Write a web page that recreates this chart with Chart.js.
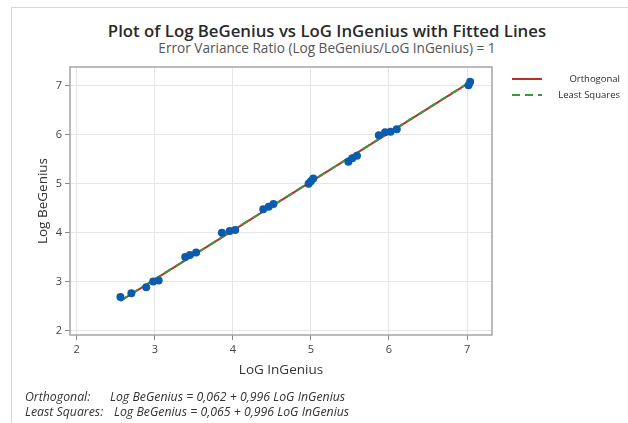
<!DOCTYPE html>
<html>
<head>
<meta charset="utf-8">
<script src="https://cdn.jsdelivr.net/npm/chart.js@4/dist/chart.umd.min.js"></script>
<style>
    body { margin: 0; background: #fff; font-family: "Open Sans", "Noto Sans", sans-serif; }
    #wrap { position: relative; width: 628px; height: 423px; overflow: hidden; }
    #plot { position: absolute; left: 0; top: 0; }
    .frame { position: absolute; left: 11px; top: 7px; right: -2px; bottom: -2px; border-left: 1px solid #d6d6d6; border-top: 1px solid #d6d6d6; }
    .title { position: absolute; left: 0; width: 654px; text-align: center; color: #2a2a2a; }
    .legend { position: absolute; left: 510px; top: 71px; width: 110px; font-size: 9.5px; color: #2a2a2a; }
    .legend div { position: relative; height: 16px; }
    .legend svg { position: absolute; left: 0; top: 2px; }
    .legend span { position: absolute; right: 0; top: 0; line-height: 16px; }
    .note { position: absolute; font-style: italic; font-size: 12.3px; color: #333; white-space: pre; }
</style>
</head>
<body>
<div id="wrap">
    <div class="frame"></div>
    <div class="title" style="top:19px;font-size:16.8px;font-weight:600;">Plot of Log BeGenius vs LoG InGenius with Fitted Lines</div>
    <div class="title" style="top:38px;font-size:13.6px;color:#555;">Error Variance Ratio (Log BeGenius/LoG InGenius) = 1</div>
    <canvas id="plot" width="628" height="423"></canvas>
    <div class="legend">
        <div><svg width="34" height="12"><line x1="2" y1="6" x2="32" y2="6" stroke="#b8302b" stroke-width="2"/></svg><span>Orthogonal</span></div>
        <div><svg width="34" height="12"><line x1="2" y1="6" x2="32" y2="6" stroke="#3a9a3a" stroke-width="2" stroke-dasharray="8,5"/></svg><span>Least Squares</span></div>
    </div>
    <div class="note" style="left:25px;top:388px;">Orthogonal:</div>
    <div class="note" style="left:110px;top:388px;">Log BeGenius = 0,062 + 0,996 LoG InGenius</div>
    <div class="note" style="left:25px;top:403px;">Least Squares:</div>
    <div class="note" style="left:114px;top:403px;">Log BeGenius = 0,065 + 0,996 LoG InGenius</div>
</div>
<script>
const logInGenius = [2.56, 2.70, 2.89, 2.98, 3.05, 3.39, 3.45, 3.53, 3.86, 3.96, 4.03,
    4.39, 4.46, 4.52, 4.97, 5.00, 5.03, 5.48, 5.53, 5.59, 5.87, 5.95, 6.02, 6.10, 7.02, 7.04];
const logBeGenius = [2.69, 2.77, 2.89, 3.01, 3.03, 3.51, 3.55, 3.60, 4.00, 4.04, 4.06,
    4.48, 4.53, 4.59, 5.00, 5.05, 5.11, 5.45, 5.52, 5.57, 5.99, 6.05, 6.06, 6.11, 7.01, 7.08];

// fitted line end points (from the equations printed under the plot)
const orthoX = [2.56, 7.06];
const orthoY = [2.612, 7.094];
const lsqX = [2.56, 7.06];
const lsqY = [2.615, 7.097];

const tickValues = [2, 3, 4, 5, 6, 7];

const toPoints = (xs, ys) => xs.map((x, i) => ({ x: x, y: ys[i] }));

const framePlugin = {
    id: 'frame',
    beforeDatasetsDraw(chart) {
        const a = chart.chartArea;
        const ctx = chart.ctx;
        ctx.save();
        ctx.strokeStyle = '#a4a4a4';
        ctx.lineWidth = 1.5;
        ctx.strokeRect(a.left, a.top, a.right - a.left, a.bottom - a.top);
        ctx.restore();
    }
};

const fixTicks = scale => { scale.ticks = tickValues.map(v => ({ value: v })); };

new Chart(document.getElementById('plot'), {
    type: 'scatter',
    data: {
        datasets: [{
            label: 'Data',
            data: toPoints(logInGenius, logBeGenius),
            backgroundColor: '#0b5cad',
            borderColor: '#0b5cad',
            pointRadius: 4,
            pointBorderWidth: 0
        }, {
            label: 'Least Squares',
            data: toPoints(lsqX, lsqY),
            showLine: true,
            borderColor: '#3a9a3a',
            borderWidth: 2,
            borderDash: [8, 5],
            pointRadius: 0
        }, {
            label: 'Orthogonal',
            data: toPoints(orthoX, orthoY),
            showLine: true,
            borderColor: '#b8302b',
            borderWidth: 2,
            pointRadius: 0
        }]
    },
    options: {
        responsive: false,
        animation: false,
        devicePixelRatio: 1,
        layout: { padding: { left: 0, top: 67, right: 136, bottom: 38 } },
        plugins: {
            legend: { display: false },
            tooltip: { enabled: false }
        },
        scales: {
            x: {
                min: 1.914,
                max: 7.32,
                afterBuildTicks: fixTicks,
                afterFit: s => { s.height = 50; },
                border: { display: false },
                grid: { color: '#e6e6e6', tickColor: '#8a8a8a', tickLength: 5 },
                ticks: { color: '#444', padding: 3, font: { family: 'Open Sans', size: 11 } },
                title: {
                    display: true,
                    text: 'LoG InGenius',
                    color: '#333',
                    padding: { top: 0, bottom: 7 },
                    font: { family: 'Open Sans', size: 13.5 }
                }
            },
            y: {
                min: 1.918,
                max: 7.38,
                afterBuildTicks: fixTicks,
                afterFit: s => { s.width = 70; },
                border: { display: false },
                grid: { color: '#e6e6e6', tickColor: '#8a8a8a', tickLength: 5 },
                ticks: { color: '#444', padding: 3, font: { family: 'Open Sans', size: 11 } },
                title: {
                    display: true,
                    text: 'Log BeGenius',
                    color: '#333',
                    padding: { top: 35, bottom: 0 },
                    font: { family: 'Open Sans', size: 13.5 }
                }
            }
        }
    },
    plugins: [framePlugin]
});
</script>
</body>
</html>
